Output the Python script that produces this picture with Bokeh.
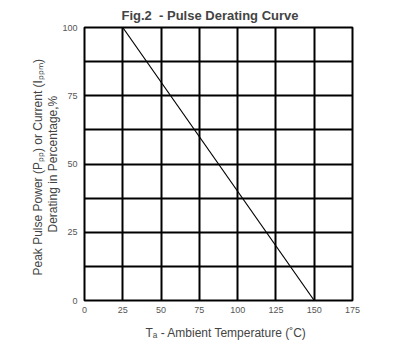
from bokeh.plotting import figure
from bokeh.models import Range1d, FixedTicker, Title
from bokeh.embed import file_html
from bokeh.resources import INLINE

# ---- data ----
temps = [25, 150]          # ambient temperature (C)
derating = [100, 0]        # derating in percentage
x_ticks = [0, 25, 50, 75, 100, 125, 150, 175]
y_ticks = [0, 25, 50, 75, 100]
y_grid = [0, 12.5, 25, 37.5, 50, 62.5, 75, 87.5, 100]

FONT = "Liberation Sans"

p = figure(width=408, height=354, x_range=Range1d(0, 175), y_range=Range1d(0, 100),
           output_backend="svg", toolbar_location=None,
           min_border_left=84, min_border_right=56, min_border_top=27, min_border_bottom=54)
p.background_fill_color = "white"
p.border_fill_color = "white"
p.outline_line_color = "black"
p.outline_line_width = 2

p.xaxis.ticker = FixedTicker(ticks=x_ticks)
p.yaxis.ticker = FixedTicker(ticks=y_ticks)
p.xgrid.ticker = FixedTicker(ticks=x_ticks)
p.ygrid.ticker = FixedTicker(ticks=y_grid)
for g in (p.xgrid, p.ygrid):
    g.grid_line_color = "black"
    g.grid_line_width = 2
    g.grid_line_alpha = 1.0

for ax in (p.xaxis, p.yaxis):
    ax.axis_line_color = None
    ax.major_tick_line_color = None
    ax.minor_tick_line_color = None
    ax.major_tick_out = 0
    ax.major_tick_in = 0
    ax.minor_tick_out = 0
    ax.minor_tick_in = 0
    ax.major_label_text_font = FONT
    ax.major_label_text_font_size = "9px"
    ax.major_label_text_color = "#555555"
p.xaxis.major_label_standoff = 6
p.yaxis.major_label_standoff = 7

p.line(temps, derating, line_color="black", line_width=1.2)

# title
p.title.text = "Fig.2\u00a0\u00a0- Pulse Derating Curve"
p.title.text_font = FONT
p.title.text_font_size = "13px"
p.title.text_font_style = "bold"
p.title.align = "left"
p.title.offset = 37
p.title.standoff = 10

# y label (two lines, outer first line)
p.add_layout(Title(text="Derating in Percentage,%", text_font=FONT, text_font_size="12px",
                   text_font_style="normal", align="left", offset=68, standoff=0), "left")
p.add_layout(Title(text="Peak Pulse Power (P\u209a\u209a) or Current (I\u209a\u209a\u2098)",
                   text_font=FONT, text_font_size="12px", text_font_style="normal",
                   align="left", offset=25, standoff=-3), "left")

# x label
p.add_layout(Title(text="T\u2090 - Ambient Temperature (\u02daC)", text_font=FONT,
                   text_font_size="12px", text_font_style="normal",
                   align="left", offset=61, standoff=16), "below")

open("out.html", "w").write(file_html(p, INLINE))
